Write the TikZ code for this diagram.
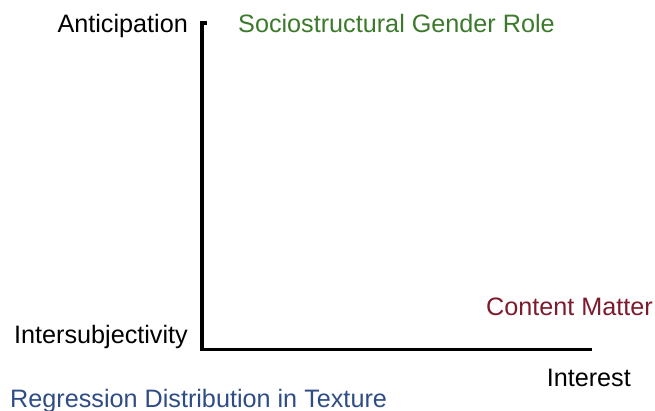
\documentclass[tikz,border=0pt]{standalone}
\usepackage{fontspec}
\setmainfont{Liberation Sans}
\definecolor{cgreen}{HTML}{3B7A2A}
\definecolor{cblue}{HTML}{2F4C85}
\definecolor{cred}{HTML}{7D1A2C}
\begin{document}
\begin{tikzpicture}[x=1pt,y=-1pt,
  lbl/.style={inner sep=0pt,font=\fontsize{25.2}{29}\selectfont},
  axis/.style={line width=3.5pt,line join=miter}]
\useasboundingbox (0,0) rectangle (655,411);
\coordinate (top) at (202,23);
\coordinate (topr) at (207,23);
\coordinate (origin) at (202,349.5);
\coordinate (xend) at (592,349.5);
\draw[axis] (topr) -- (top) -- (origin) -- (xend);
\node[lbl,anchor=base east] (ant) at (188,33) {Anticipation};
\node[lbl,anchor=base west,text=cgreen] (soc) at (238,33) {Sociostructural Gender Role};
\node[lbl,anchor=base east] (inter) at (188,343) {Intersubjectivity};
\node[lbl,anchor=base west,text=cblue] (reg) at (10,407) {Regression Distribution in Texture};
\node[lbl,anchor=base east,text=cred] (cont) at (653,316) {Content Matter};
\node[lbl,anchor=base east] (int) at (631,386) {Interest};
\end{tikzpicture}
\end{document}
